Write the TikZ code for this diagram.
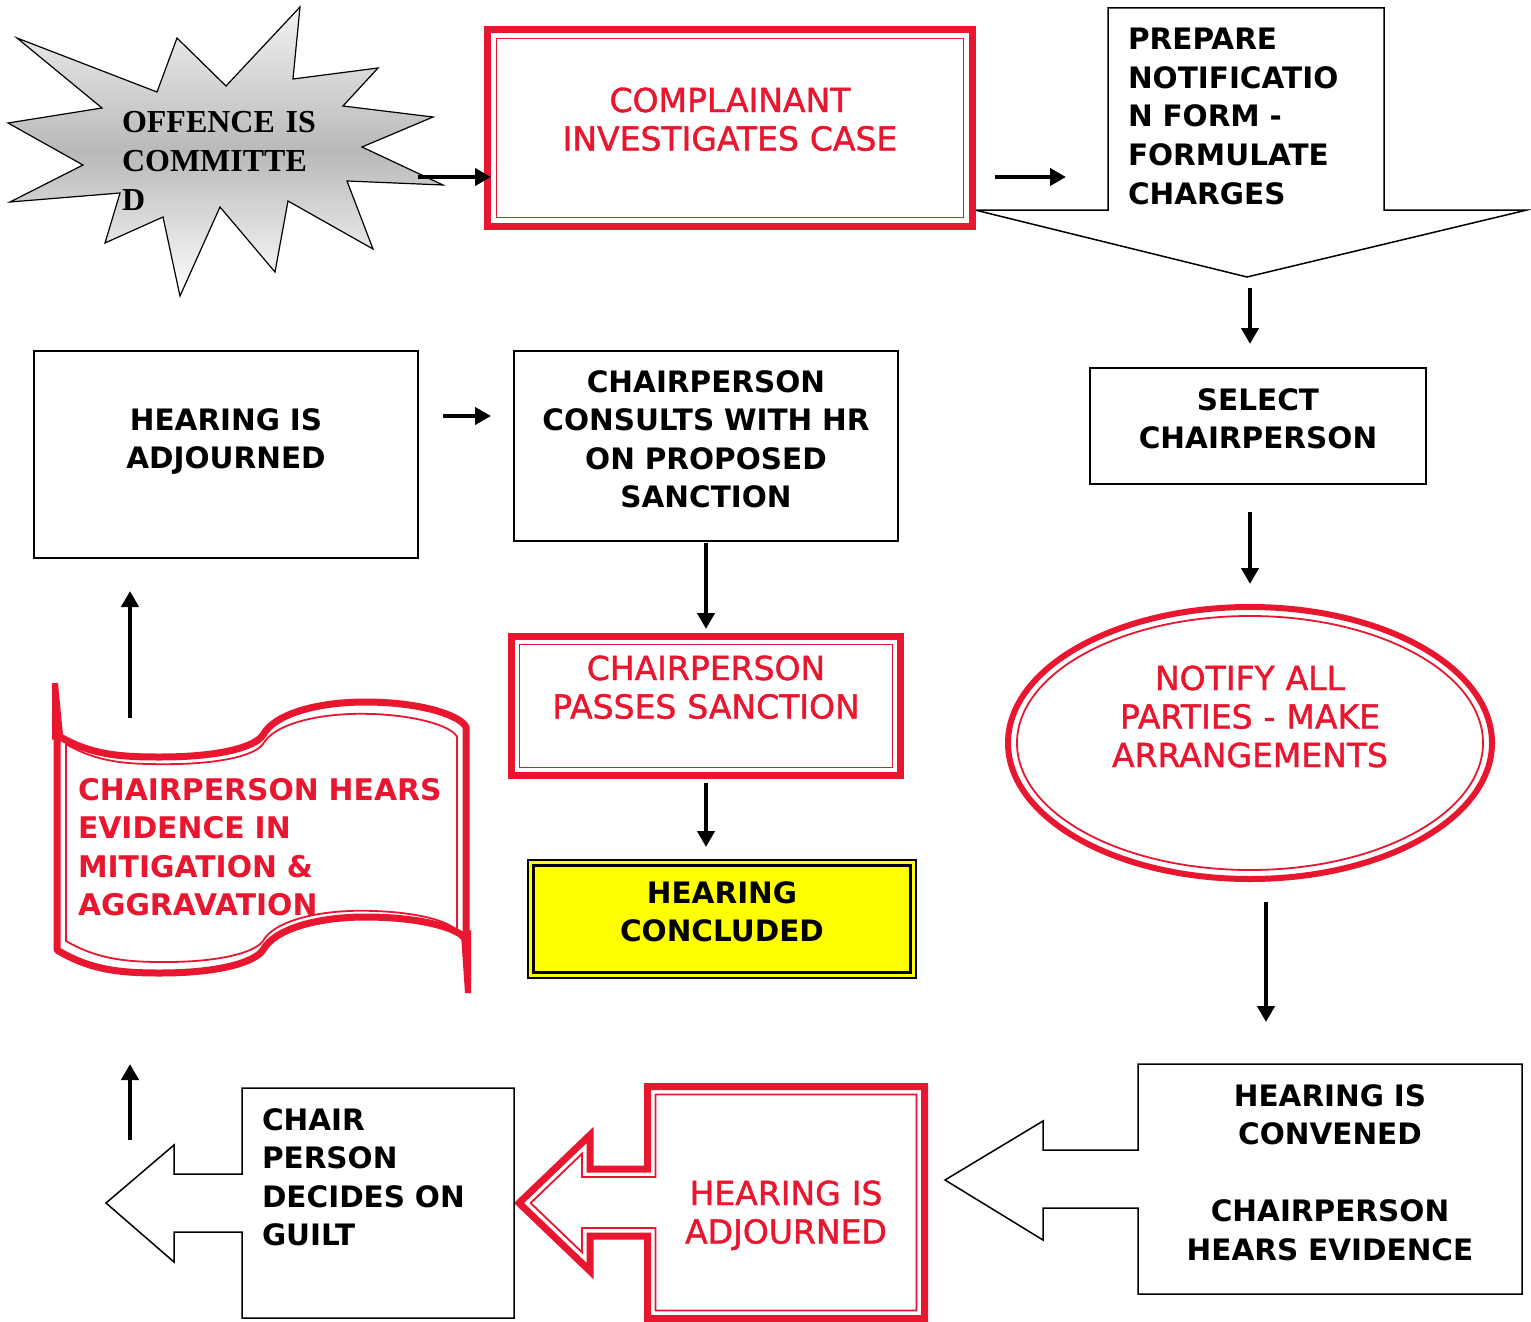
\documentclass[tikz,border=0pt]{standalone}
\usepackage{fontspec}
\usetikzlibrary{shapes.geometric,arrows.meta,calc}
\newfontfamily\dejavu{DejaVu Sans}
\newfontfamily\comicf{DejaVu Sans}[FakeBold=1.3]
\newfontfamily\timesf{Liberation Serif}
\definecolor{myred}{HTML}{E8162F}
\definecolor{myyellow}{HTML}{FFFF00}
\newcommand\bannerpath{(57,735) .. controls (90,755) and (120,757) .. (160,757) .. controls (220,757) and (255,747) .. (263,735) .. controls (275,713) and (320,702) .. (365,702) .. controls (420,702) and (460,715) .. (466,727) -- (466,940) .. controls (460,928) and (420,917) .. (365,917) .. controls (320,917) and (275,928) .. (263,950) .. controls (255,962) and (220,973) .. (160,973) .. controls (120,973) and (90,970) .. (57,950) -- cycle}
\tikzset{
 every node/.style={inner sep=0pt, outer sep=0pt},
 blk/.style={font=\dejavu\bfseries\fontsize{29.5}{38.5}\selectfont, text=black},
 redbold/.style={font=\dejavu\bfseries\fontsize{29.8}{38.5}\selectfont, text=myred},
 comic/.style={font=\comicf\fontsize{33}{38.5}\selectfont, text=myred},
 plainbox/.style={draw=black, line width=1.5, fill=white, rectangle, anchor=north west},
 redbox/.style={draw=myred, line width=7, fill=white, rectangle, anchor=north west},
 thinred/.style={draw=myred, line width=1.8},
 callout/.style={draw=black, line width=1.5, fill=white, line join=miter},
 arr/.style={line width=4.5, -{Triangle[length=16pt,width=17pt]}},
}
\begin{document}
\begin{tikzpicture}[x=1pt,y=-1pt]
\useasboundingbox (0,0) rectangle (1531,1322);
\fill[white] (0,0) rectangle (1531,1322);

% starburst
\path[draw=black, line width=1.2, top color=gray!10, bottom color=white, middle color=gray!55]
 (17,38) -- (157,92) -- (177,38) -- (226,86) -- (300,7) -- (293,79) -- (378,68) -- (343,106)
 -- (433,117) -- (362,147) -- (443,185) -- (347,181) -- (373,249) -- (288,201) -- (275,272)
 -- (220,207) -- (180,296) -- (163,217) -- (105,243) -- (120,193) -- (10,202) -- (83,165)
 -- (8,123) -- (102,108) -- cycle;
\node[font=\timesf\bfseries\fontsize{32}{39}\selectfont, align=left, text width=250, anchor=base west] (tOff) at (122,132) {OFFENCE IS\\COMMITTE\\D};

% prepare notification callout
\path[callout] (1108,8) -- (1384,8) -- (1384,210) -- (1527,210) -- (1247,277) -- (975,210) -- (1108,210) -- cycle;
\node[blk, align=left, text width=260, anchor=base west] (tPrep) at (1128,50) {PREPARE\\NOTIFICATIO\\N FORM -\\FORMULATE\\CHARGES};

% complainant
\node[redbox, minimum width=485, minimum height=197] (comp) at (487.5,29.5) {};
\draw[thinred] ($(comp.north west)+(9,9)$) rectangle ($(comp.south east)+(-9,-9)$);
\node[comic, align=center, text width=460, anchor=base] (tComp) at (730,112) {COMPLAINANT\\INVESTIGATES CASE};

% select chairperson
\node[plainbox, minimum width=336, minimum height=116] (sel) at (1090,368) {};
\node[blk, align=center, text width=330, anchor=base] (tSel) at (1258,410) {SELECT\\CHAIRPERSON};

% notify ellipse
\node[ellipse, draw=myred, line width=6, fill=white, minimum width=484, minimum height=272] (ell) at (1250,743) {};
\draw[thinred] (ell.center) ellipse [x radius=233, y radius=127];
\node[comic, align=center, text width=420, anchor=base] (tEll) at (1250,690) {NOTIFY ALL\\PARTIES - MAKE\\ARRANGEMENTS};

% hearing convened callout
\path[callout] (1138,1064) -- (1522,1064) -- (1522,1294) -- (1138,1294) -- (1138,1208) -- (1043,1208) -- (1043,1240) -- (945,1180) -- (1043,1121) -- (1043,1150) -- (1138,1150) -- cycle;
\node[blk, align=center, text width=380, anchor=base] (tConv) at (1330,1106) {HEARING IS\\CONVENED\\\mbox{}\\CHAIRPERSON\\HEARS EVIDENCE};

% red adjourned callout
\path[draw=myred, line width=7, fill=white, line join=miter] (647.5,1086.5) -- (924.5,1086.5) -- (924.5,1318.5) -- (647.5,1318.5) -- (647.5,1236) -- (590,1236) -- (590,1271) -- (519,1203) -- (590,1135) -- (590,1169) -- (647.5,1169) -- cycle;
\path[thinred, line join=miter] (655.5,1094.5) -- (916.5,1094.5) -- (916.5,1310.5) -- (655.5,1310.5) -- (655.5,1228) -- (582,1228) -- (582,1252.3) -- (530.6,1203) -- (582,1153.7) -- (582,1177) -- (655.5,1177) -- cycle;
\node[comic, align=center, text width=270, anchor=base] (tAdjR) at (786,1205) {HEARING IS\\ADJOURNED};

% guilt callout
\path[callout] (242,1088) -- (514,1088) -- (514,1318) -- (242,1318) -- (242,1232) -- (174,1232) -- (174,1262) -- (106,1203) -- (174,1145) -- (174,1174) -- (242,1174) -- cycle;
\node[blk, align=left, text width=250, anchor=base west] (tGuilt) at (262,1130) {CHAIR\\PERSON\\DECIDES ON\\GUILT};

% banner
\path[draw=myred, line width=7, fill=white, line join=round] \bannerpath;
\begin{scope}[shift={(261.5,842.5)}, xscale=0.956, yscale=0.916, shift={(-261.5,-842.5)}]
\draw[thinred] \bannerpath;
\end{scope}
\fill[myred] (52,683) -- (58,683) -- (63,735) -- (52,740) -- cycle;
\fill[myred] (461,935) -- (471,930) -- (471,993) -- (465,993) -- cycle;
\node[redbold, align=left, text width=400, anchor=base west] (tBan) at (78,800) {CHAIRPERSON HEARS\\EVIDENCE IN\\MITIGATION \&\\AGGRAVATION};

% hearing adjourned (top left)
\node[plainbox, minimum width=384, minimum height=207] (adjTL) at (34,351) {};
\node[blk, align=center, text width=380, anchor=base] (tAdjTL) at (226,430) {HEARING IS\\ADJOURNED};

% consults
\node[plainbox, minimum width=384, minimum height=190] (cons) at (514,351) {};
\node[blk, align=center, text width=380, anchor=base] (tCons) at (706,392) {CHAIRPERSON\\CONSULTS WITH HR\\ON PROPOSED\\SANCTION};

% passes sanction
\node[redbox, minimum width=389, minimum height=139] (pass) at (511.5,636.5) {};
\draw[thinred] ($(pass.north west)+(8,8)$) rectangle ($(pass.south east)+(-8,-8)$);
\node[comic, align=center, text width=380, anchor=base] (tPass) at (706,680) {CHAIRPERSON\\PASSES SANCTION};

% concluded
\node[draw=black, line width=1.5, fill=myyellow, anchor=north west, minimum width=388, minimum height=118] (concl) at (528,860) {};
\draw[line width=3] ($(concl.north west)+(5.5,5.5)$) rectangle ($(concl.south east)+(-5.5,-5.5)$);
\node[blk, align=center, text width=380, anchor=base] (tConcl) at (722,903) {HEARING\\CONCLUDED};

% arrows
\coordinate (a1s) at (418,177); \coordinate (a1e) at (491,177);
\coordinate (a2s) at (995,177); \coordinate (a2e) at (1066,177);
\coordinate (a3s) at (1250,288); \coordinate (a3e) at (1250,344);
\coordinate (a4s) at (1250,512); \coordinate (a4e) at (1250,584);
\coordinate (a5s) at (1266,902); \coordinate (a5e) at (1266,1022);
\coordinate (a6s) at (130,1140); \coordinate (a6e) at (130,1064);
\coordinate (a7s) at (130,718); \coordinate (a7e) at (130,591);
\coordinate (a8s) at (443,416); \coordinate (a8e) at (491,416);
\coordinate (a9s) at (706,543); \coordinate (a9e) at (706,629);
\coordinate (a10s) at (706,783); \coordinate (a10e) at (706,847);
\foreach \i in {1,...,10} {\draw[arr] (a\i s) -- (a\i e);}
\end{tikzpicture}
\end{document}
